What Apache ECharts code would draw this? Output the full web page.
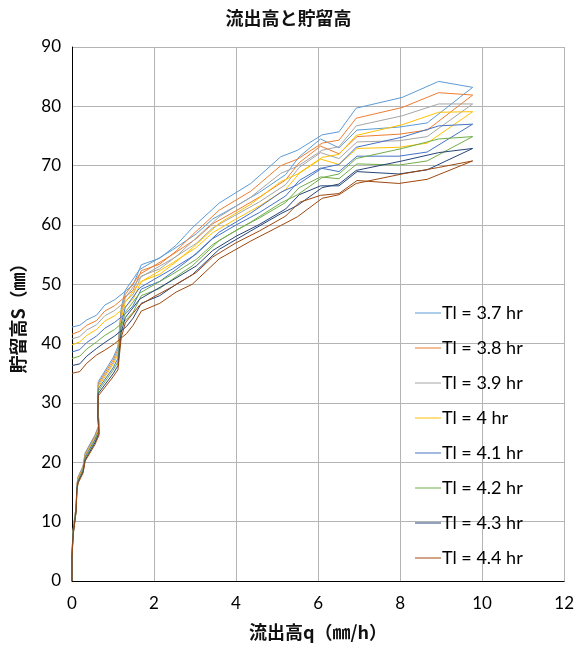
<!DOCTYPE html>
<html>
<head>
<meta charset="utf-8">
<script src="https://cdn.jsdelivr.net/npm/echarts@6/dist/echarts.min.js"></script>
<style>
html,body{margin:0;padding:0;background:#fff;}
#chart{width:577px;height:650px;}
</style>
</head>
<body>
<div id="chart"></div>
<script>
// shared discharge time series (rising part, then falling part)
var qRise = [0, 0, 0.03, 0.10, 0.12, 0.15, 0.27, 0.32, 0.56, 0.66, 0.63, 0.64, 1.00, 1.12, 1.20, 1.30, 1.65, 2.02, 2.45, 3.03, 3.43, 4.00, 4.57, 5.21, 5.54, 6.06, 6.51, 6.95, 7.97, 8.66, 9.77];
var qFall = [8.94, 8.05, 6.93, 6.51, 6.10, 5.50, 5.09, 4.36, 3.59, 2.93, 2.54, 2.14, 1.69, 1.49, 1.33, 1.04, 0.80, 0.60, 0.36, 0.19, 0];

var seriesNames = ["Tl = 3.7 hr", "Tl = 3.8 hr", "Tl = 3.9 hr", "Tl = 4 hr", "Tl = 4.1 hr", "Tl = 4.2 hr", "Tl = 4.3 hr", "Tl = 4.4 hr"];
var seriesColors = ["#5B9BD5", "#ED7D31", "#A5A5A5", "#FFC000", "#4472C4", "#70AD47", "#264478", "#9E480E"];

var sRise37 = [0, 5.0, 8.8, 12.6, 16.3, 17.6, 19.4, 21.6, 24.6, 26.4, 29.5, 33.6, 37.6, 39.5, 46.0, 49.0, 52.5, 54.0, 55.8, 58.5, 61.0, 63.2, 65.5, 68.5, 71.5, 74.5, 73.0, 76.0, 76.5, 77.2, 83.2];
var sFall37 = [84.2, 81.5, 79.7, 75.7, 75.2, 72.6, 71.5, 67.0, 63.7, 59.5, 56.6, 54.4, 53.3, 49.9, 49.0, 47.4, 46.5, 44.8, 44.0, 43.1, 42.8];

var sRise38 = [0, 4.9, 8.7, 12.5, 16.2, 17.5, 19.2, 21.4, 24.4, 26.2, 29.2, 33.3, 37.2, 39.0, 45.4, 48.3, 51.7, 53.2, 55.0, 57.7, 60.2, 62.4, 64.7, 67.6, 70.5, 73.3, 72.0, 74.9, 75.3, 76.0, 81.9];
var sFall38 = [82.3, 79.8, 78.0, 74.3, 73.8, 71.1, 70.0, 65.7, 62.5, 58.3, 55.6, 53.4, 52.3, 49.0, 48.1, 46.4, 45.5, 43.9, 43.1, 42.1, 41.6];

var sRise39 = [0, 4.8, 8.6, 12.4, 16.1, 17.3, 19.1, 21.3, 24.2, 26.0, 29.0, 33.0, 36.8, 38.6, 44.8, 47.7, 51.1, 52.6, 54.3, 56.9, 59.5, 61.7, 63.9, 66.8, 69.7, 72.2, 71.2, 74.0, 74.2, 74.9, 80.4];
var sFall39 = [80.4, 78.4, 76.7, 73.2, 72.6, 69.9, 68.7, 64.7, 61.4, 57.2, 54.7, 52.6, 51.4, 48.3, 47.3, 45.6, 44.7, 43.2, 42.3, 41.2, 40.8];

var sRise40 = [0, 4.6, 8.4, 12.2, 15.9, 17.2, 19.0, 21.1, 24.0, 25.8, 28.7, 32.7, 36.5, 38.1, 44.2, 47.0, 50.3, 51.8, 53.6, 56.2, 58.7, 61.0, 63.2, 66.0, 68.7, 71.1, 70.2, 72.9, 73.1, 73.8, 79.1];
var sFall40 = [79.0, 76.9, 75.1, 71.9, 71.4, 68.6, 67.3, 63.5, 60.3, 56.1, 53.8, 51.7, 50.5, 47.5, 46.4, 44.7, 43.8, 42.4, 41.4, 40.3, 39.8];

var sRise41 = [0, 4.5, 8.3, 12.1, 15.8, 17.0, 18.8, 20.9, 23.8, 25.5, 28.4, 32.4, 35.9, 37.5, 43.4, 46.1, 49.4, 50.9, 52.6, 55.1, 57.7, 60.0, 62.1, 64.9, 67.5, 69.6, 69.0, 71.6, 71.6, 72.3, 77.0];
var sFall41 = [76.7, 74.8, 73.1, 70.2, 69.6, 66.8, 65.5, 62.0, 58.8, 54.6, 52.5, 50.5, 49.2, 46.4, 45.2, 43.6, 42.6, 41.3, 40.2, 39.0, 38.6];

var sRise42 = [0, 4.3, 8.1, 11.9, 15.6, 16.9, 18.6, 20.7, 23.5, 25.2, 28.1, 32.0, 35.5, 36.9, 42.7, 45.3, 48.5, 50.0, 51.7, 54.2, 56.7, 59.1, 61.2, 63.8, 66.3, 68.1, 67.8, 70.3, 70.1, 70.8, 74.9];
var sFall42 = [74.5, 72.9, 71.2, 68.6, 68.0, 65.1, 63.7, 60.5, 57.4, 53.1, 51.3, 49.3, 48.1, 45.3, 44.1, 42.4, 41.4, 40.3, 39.1, 37.9, 37.5];

var sRise43 = [0, 4.2, 8.0, 11.8, 15.5, 16.7, 18.4, 20.4, 23.3, 24.9, 27.8, 31.6, 34.9, 36.3, 41.9, 44.4, 47.5, 49.0, 50.7, 53.1, 55.7, 58.1, 60.1, 62.7, 65.1, 66.6, 66.6, 69.0, 68.6, 69.3, 72.9];
var sFall43 = [72.2, 70.8, 69.2, 66.9, 66.3, 63.3, 61.9, 59.0, 55.9, 51.6, 50.0, 48.1, 46.8, 44.3, 42.9, 41.3, 40.2, 39.2, 37.9, 36.6, 36.3];

var sRise44 = [0, 4.0, 7.8, 11.6, 15.3, 16.5, 18.2, 20.2, 23.0, 24.6, 27.4, 31.2, 34.4, 35.6, 41.0, 43.5, 46.5, 48.0, 49.6, 52.0, 54.6, 57.0, 59.0, 61.5, 63.8, 65.0, 65.3, 67.5, 67.0, 67.7, 70.8];
var sFall44 = [69.7, 68.6, 67.0, 65.1, 64.5, 61.4, 59.9, 57.3, 54.3, 50.0, 48.7, 46.8, 45.5, 43.1, 41.7, 40.0, 38.9, 38.1, 36.7, 35.3, 35.0];

var xTicks = [0, 2, 4, 6, 8, 10, 12];
var yTicks = [0, 10, 20, 30, 40, 50, 60, 70, 80, 90];

var riseSets = [sRise37, sRise38, sRise39, sRise40, sRise41, sRise42, sRise43, sRise44];
var fallSets = [sFall37, sFall38, sFall39, sFall40, sFall41, sFall42, sFall43, sFall44];

var qAll = qRise.concat(qFall);
var series = seriesNames.map(function (name, i) {
  var s = riseSets[i].concat(fallSets[i]);
  return {
    name: name,
    type: 'line',
    symbol: 'none',
    showSymbol: false,
    smooth: false,
    animation: false,
    lineStyle: { width: 1, color: seriesColors[i] },
    itemStyle: { color: seriesColors[i] },
    data: qAll.map(function (q, k) { return [q, s[k]]; })
  };
});

var font = 'Lato, "Noto Sans CJK JP", sans-serif';
var cjk = '"Noto Sans CJK JP", sans-serif';
var chart = echarts.init(document.getElementById('chart'), null, { renderer: 'canvas' });
chart.setOption({
  animation: false,
  backgroundColor: '#fff',
  title: {
    text: '流出高と貯留高',
    left: 'center',
    top: 4,
    textStyle: { fontFamily: cjk, fontSize: 18, fontWeight: 'bold', color: '#111' }
  },
  grid: { left: 72, top: 47, width: 494, height: 534, containLabel: false },
  legend: {
    orient: 'vertical',
    left: 410,
    top: 299,
    itemWidth: 26,
    itemHeight: 14,
    itemGap: 17,
    icon: 'path://M0,7 L26,7 L26,8 L0,8 Z',
    textStyle: { fontFamily: font, fontSize: 18, color: '#000', padding: [0, 0, 0, -4] },
    data: seriesNames
  },
  xAxis: {
    type: 'value',
    min: 0, max: 12, interval: 2,
    name: '流出高q（㎜/h）',
    nameLocation: 'middle',
    nameGap: 42,
    nameTextStyle: { fontFamily: cjk, fontSize: 18, fontWeight: 'bold', color: '#111' },
    axisLine: { show: true, lineStyle: { color: '#000', width: 1 } },
    axisTick: { show: false },
    axisLabel: { fontFamily: font, fontSize: 17, color: '#000', margin: 14,
      formatter: function (v) { return xTicks.indexOf(v) >= 0 ? String(v) : ''; } },
    splitLine: { show: true, lineStyle: { color: '#b4b4b4', width: 1 } }
  },
  yAxis: {
    type: 'value',
    min: 0, max: 90, interval: 10,
    name: '貯留高S（㎜）',
    nameLocation: 'middle',
    nameGap: 45,
    nameRotate: 90,
    nameTextStyle: { fontFamily: cjk, fontSize: 18, fontWeight: 'bold', color: '#111' },
    axisLine: { show: true, lineStyle: { color: '#000', width: 1 } },
    axisTick: { show: false },
    axisLabel: { fontFamily: font, fontSize: 17, color: '#000', margin: 11,
      formatter: function (v) { return yTicks.indexOf(v) >= 0 ? String(v) : ''; } },
    splitLine: { show: true, lineStyle: { color: '#b4b4b4', width: 1 } }
  },
  series: series
});
</script>
</body>
</html>
